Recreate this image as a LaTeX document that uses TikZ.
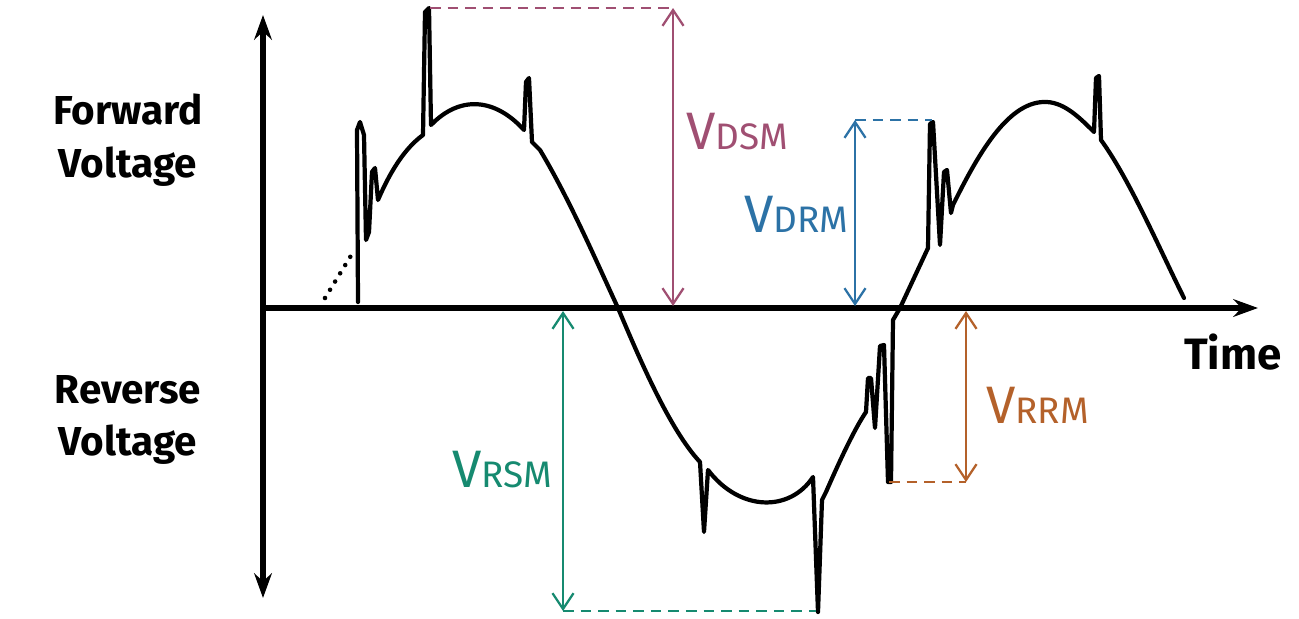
\documentclass[tikz,border=0pt]{standalone}
\usepackage{fontspec}
\setmainfont{Fira Sans}
\usetikzlibrary{arrows.meta}
\definecolor{cD}{HTML}{A04F72}
\definecolor{cB}{HTML}{2C72A6}
\definecolor{cG}{HTML}{168A70}
\definecolor{cO}{HTML}{B4612A}
\begin{document}
\begin{tikzpicture}[x=0.02cm,y=-0.02cm,
  axis/.style={line width=3pt,-{Stealth[length=14pt,width=10pt]}},
  wave/.style={line width=2.4pt,line join=round,line cap=round},
  meas/.style={line width=1.3pt,{Straight Barb[length=9pt,width=12pt]}-{Straight Barb[length=9pt,width=12pt]}},
  guide/.style={line width=1.4pt,dash pattern=on 6pt off 4pt},
  big/.style={font=\bfseries\fontsize{23}{30}\selectfont,align=center},
  lab/.style={font=\fontsize{30}{34}\selectfont,anchor=west}]
\useasboundingbox (0,0) rectangle (1299,619);
% axes
\coordinate (o) at (263,308);
\coordinate (xe) at (1258,308);
\coordinate (yt) at (263,15);
\coordinate (yb) at (263,598);
\draw[axis] (o) -- (xe);
\draw[line width=3pt,{Stealth[length=14pt,width=10pt]}-{Stealth[length=14pt,width=10pt]}] (yb) -- (yt);
% labels
\node[big] (fw) at (128,140) {Forward\\Voltage};
\node[big] (rv) at (128,420) {Reverse\\Voltage};
\node[big,font=\bfseries\fontsize{25}{30}\selectfont] (tm) at (1233,352) {Time};
% dotted lead-in
\draw[line width=2.6pt,dash pattern=on 0pt off 5.5pt,line cap=round] (325,298) -- (352,254);
% waveform
\draw[wave] (358,302) -- (357,130) -- (360,122) -- (364,135) -- (366,240) -- (369,232) -- (372,172) -- (375,168) -- (378,200)
  .. controls (393,165) and (408,146) .. (423,135) -- (425,12) -- (429,8) -- (431,125)
  .. controls (460,95) and (495,98) .. (524,130) -- (526,82) -- (529,78) -- (532,142)
  -- (540,150) .. controls (570,200) and (598,265) .. (618,308)
  .. controls (640,360) and (670,430) .. (700,462) -- (704,532) -- (708,470)
  .. controls (740,512) and (790,512) .. (813,477) -- (818,612) -- (822,500)
  -- (826,492) .. controls (840,460) and (855,428) .. (866,412) -- (868,378) -- (871,378) -- (875,428)
  -- (880,346) -- (884,345) -- (888,482) -- (891,482) -- (893,320) -- (900,308) -- (928,248)
  -- (930,124) -- (933,122) -- (940,245) -- (944,172) -- (947,170) -- (951,213) -- (953,205)
  .. controls (980,150) and (1010,100) .. (1047,102) .. controls (1065,103) and (1080,118) .. (1094,132)
  -- (1096,78) -- (1099,76) -- (1101,140) .. controls (1130,180) and (1160,250) .. (1184,298);
% V_DSM
\coordinate (d1) at (673,8); \coordinate (d2) at (673,306); \coordinate (d0) at (430,8);
\draw[guide,cD] (d0) -- (d1);
\draw[meas,cD] (d1) -- (d2);
\node[lab,text=cD] (ldsm) at (680,132) {V\fontsize{21}{26}\selectfont DSM};
% V_DRM
\coordinate (b1) at (855,120); \coordinate (b2) at (855,306); \coordinate (b0) at (932,120);
\draw[guide,cB] (b1) -- (b0);
\draw[meas,cB] (b1) -- (b2);
\node[lab,text=cB] (ldrm) at (738,214) {V\fontsize{21}{26}\selectfont DRM};
% V_RSM
\coordinate (g1) at (563,311); \coordinate (g2) at (563,611); \coordinate (g0) at (816,611);
\draw[guide,cG] (g2) -- (g0);
\draw[meas,cG] (g1) -- (g2);
\node[lab,text=cG] (lrsm) at (446,470) {V\fontsize{21}{26}\selectfont RSM};
% V_RRM
\coordinate (r1) at (966,311); \coordinate (r2) at (966,482); \coordinate (r0) at (889,482);
\draw[guide,cO] (r0) -- (r2);
\draw[meas,cO] (r1) -- (r2);
\node[lab,text=cO] (lrrm) at (980,405) {V\fontsize{21}{26}\selectfont RRM};
\end{tikzpicture}
\end{document}
